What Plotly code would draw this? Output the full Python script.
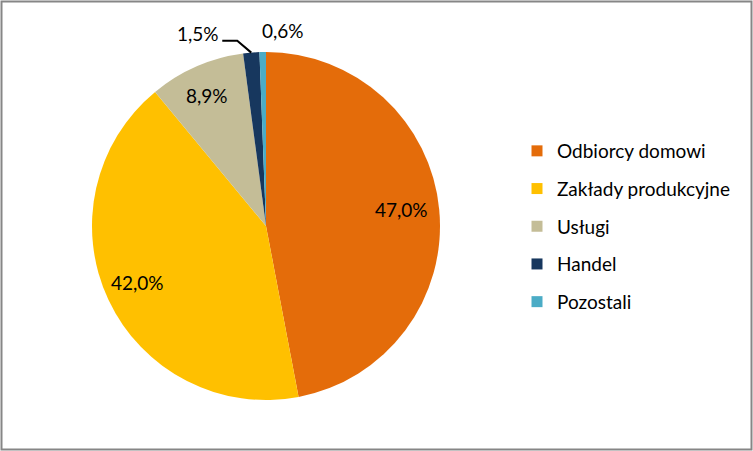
import math
import plotly.graph_objects as go

labels = ["Odbiorcy domowi", "Zakłady produkcyjne", "Usługi", "Handel", "Pozostali"]
values = [47.0, 42.0, 8.9, 1.5, 0.6]
text_labels = ["47,0%", "42,0%", "8,9%", "1,5%", "0,6%"]
colors = ["#E46C0A", "#FFC000", "#C4BD97", "#17375E", "#4BACC6"]

W, H = 753, 451
cx, cy, R = 266, 226, 174
FONT = "Lato"
FS = 19

def px(x):
    return x / W

def py(y):
    return 1 - y / H

fig = go.Figure()
fig.add_trace(go.Pie(
    labels=labels, values=values, marker=dict(colors=colors, line=dict(width=0)),
    sort=False, direction="clockwise", rotation=0, textinfo="none",
    hoverinfo="label+percent", showlegend=False,
    domain=dict(x=[px(cx - R), px(cx + R)], y=[py(cy + R), py(cy - R)]),
))

# legend via dummy traces
for lab, col in zip(labels, colors):
    fig.add_trace(go.Scatter(
        x=[None], y=[None], mode="markers", name=lab, legendgroup=lab,
        marker=dict(symbol="square", size=11, color=col),
    ))

annotations = []
shapes = []
total = sum(values)
cum = 0.0
for i, (v, t) in enumerate(zip(values, text_labels)):
    a0 = cum / total * 360
    cum += v
    a1 = cum / total * 360
    mid = math.radians((a0 + a1) / 2)
    sx, sy = math.sin(mid), -math.cos(mid)
    if v > 5:
        rr = 0.8 * R
        annotations.append(dict(x=px(cx + rr * sx - 3), y=py(cy + rr * sy - 3), xref="paper", yref="paper",
                                text=t, showarrow=False, xanchor="center", yanchor="middle",
                                font=dict(family=FONT, size=FS, color="#000000")))
    elif i == 3:
        ex, ey = cx + R * sx, cy + R * sy
        kx, ky = ex - 14, ey - 12
        lx = kx - 15
        shapes.append(dict(type="path", xref="paper", yref="paper",
                           path=f"M {px(ex)} {py(ey)} L {px(kx)} {py(ky)} L {px(lx)} {py(ky)}",
                           line=dict(color="#000000", width=2)))
        annotations.append(dict(x=px(lx - 1), y=py(ky - 7), xref="paper", yref="paper",
                                text=t, showarrow=False, xanchor="right", yanchor="middle",
                                font=dict(family=FONT, size=FS, color="#000000")))
    else:
        ex, ey = cx + R * sx, cy + R * sy
        annotations.append(dict(x=px(ex + 20), y=py(ey - 22), xref="paper", yref="paper",
                                text=t, showarrow=False, xanchor="center", yanchor="middle",
                                font=dict(family=FONT, size=FS, color="#000000")))

shapes.append(dict(type="rect", xref="paper", yref="paper", x0=px(1.5), x1=px(W - 1.5),
                   y0=py(H - 1.5), y1=py(1.5), line=dict(color="#868686", width=2)))

fig.update_layout(
    width=W, height=H, margin=dict(l=0, r=0, t=0, b=0),
    paper_bgcolor="white", plot_bgcolor="white",
    xaxis=dict(visible=False), yaxis=dict(visible=False),
    showlegend=True,
    legend=dict(x=px(517), y=py(132), xanchor="left", yanchor="top",
                font=dict(family=FONT, size=FS, color="#000000"),
                tracegroupgap=10, bgcolor="rgba(0,0,0,0)"),
    annotations=annotations, shapes=shapes,
)
fig.write_html("out.html", config={"displayModeBar": False},
               post_script="document.body.style.margin='0';")
